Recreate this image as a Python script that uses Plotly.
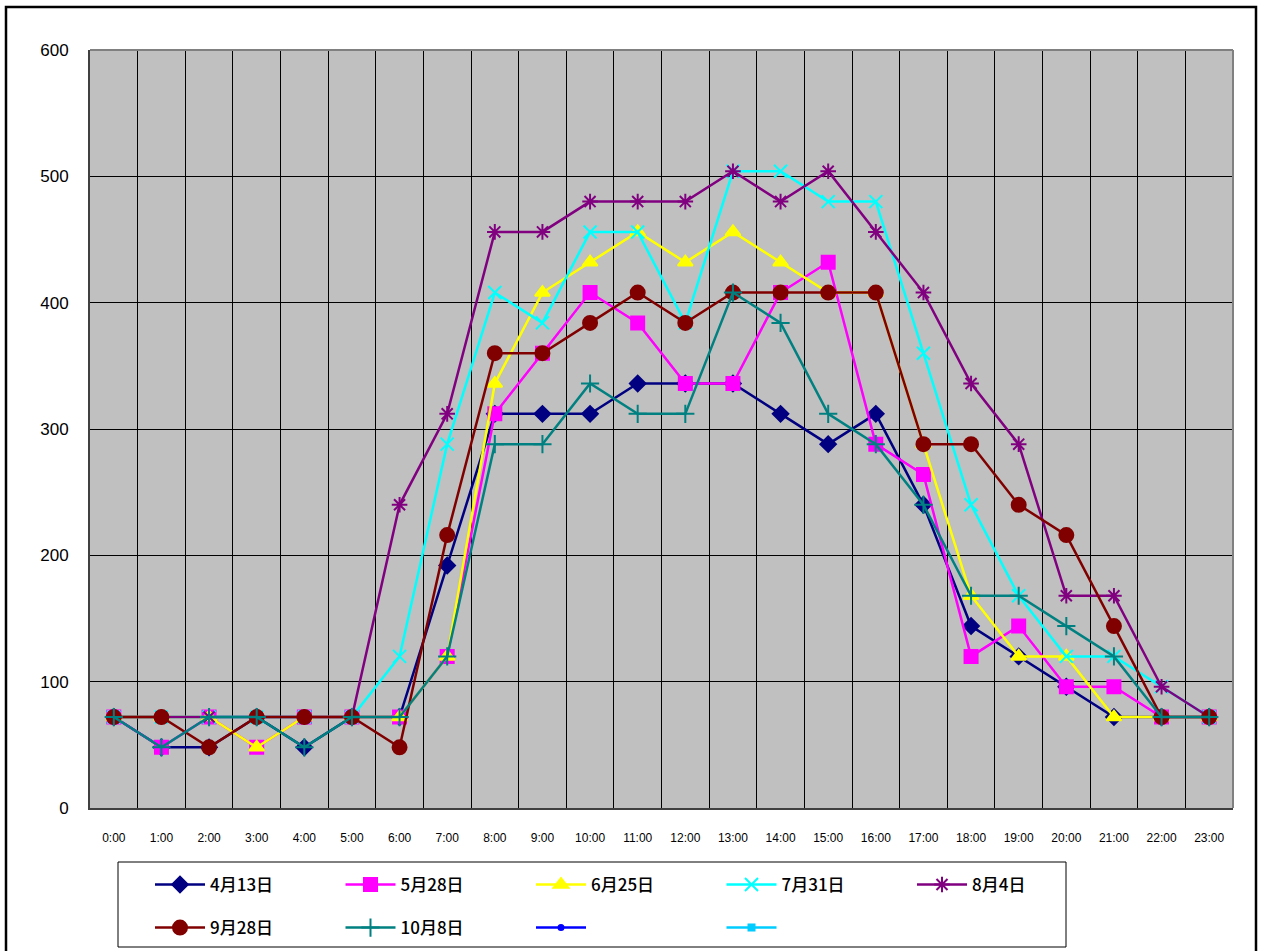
import plotly.graph_objects as go

hours = [f"{h}:00" for h in range(24)]

s_0413 = [72, 48, 48, 72, 48, 72, 72, 192, 312, 312, 312, 336, 336, 336, 312, 288, 312, 240, 144, 120, 96, 72, 72, 72]
s_0528 = [72, 48, 72, 48, 72, 72, 72, 120, 312, 360, 408, 384, 336, 336, 408, 432, 288, 264, 120, 144, 96, 96, 72, 72]
s_0625 = [72, 72, 72, 48, 72, 72, 72, 120, 336, 408, 432, 456, 432, 456, 432, 408, 408, 288, 168, 120, 120, 72, 72, 72]
s_0731 = [72, 72, 72, 72, 72, 72, 120, 288, 408, 384, 456, 456, 384, 504, 504, 480, 480, 360, 240, 168, 120, 120, 96, 72]
s_0804 = [72, 72, 72, 72, 72, 72, 240, 312, 456, 456, 480, 480, 480, 504, 480, 504, 456, 408, 336, 288, 168, 168, 96, 72]
s_0928 = [72, 72, 48, 72, 72, 72, 48, 216, 360, 360, 384, 408, 384, 408, 408, 408, 408, 288, 288, 240, 216, 144, 72, 72]
s_1008 = [72, 48, 72, 72, 48, 72, 72, 120, 288, 288, 336, 312, 312, 408, 384, 312, 288, 240, 168, 168, 144, 120, 72, 72]
s_empty = [None] * 24

names = ["4月13日", "5月28日", "6月25日", "7月31日", "8月4日", "9月28日", "10月8日", " ", " "]
series = [s_0413, s_0528, s_0625, s_0731, s_0804, s_0928, s_1008, s_empty, s_empty]
colors = ["#000080", "#FF00FF", "#FFFF00", "#00FFFF", "#800080", "#800000", "#008080", "#0000FF", "#00CCFF"]
symbols = ["diamond", "square", "triangle-up", "x-thin-open", "asterisk-open", "circle", "cross-thin-open", "circle", "square"]
sizes = [12, 13, 13, 13, 13, 14, 13, 5, 6]
legends = ["legend", "legend", "legend", "legend", "legend", "legend2", "legend2", "legend2", "legend2"]

fig = go.Figure()
for nm, ys, c, sym, sz, lg in zip(names, series, colors, symbols, sizes, legends):
    fig.add_trace(go.Scatter(
        x=hours, y=ys, name=nm, mode="lines+markers",
        line=dict(color=c, width=2.5),
        marker=dict(symbol=sym, size=sz, color=c, line=dict(color=c, width=2)),
        legend=lg,
    ))

L, R, T, B = 90, 1233, 50, 808
W, H = 1261, 951
pw, ph = R - L, B - T

def px(x):
    return (x - L) / pw

def py(y):
    return (B - y) / ph

legend_common = dict(
    orientation="h", xanchor="left", yanchor="middle",
    bgcolor="rgba(0,0,0,0)", borderwidth=0,
    font=dict(family="Noto Sans CJK JP", size=17, color="black", weight=500),
    itemwidth=50, entrywidth=125.5, traceorder="normal",
)

fig.update_layout(
    width=W, height=H,
    margin=dict(l=L, r=W - R, t=T, b=H - B, autoexpand=False),
    paper_bgcolor="white",
    plot_bgcolor="#C0C0C0",
    showlegend=True,
    legend=dict(x=px(150), y=py(885), **legend_common),
    legend2=dict(x=px(150), y=py(928), **legend_common),
    xaxis=dict(
        type="category", tickson="boundaries", range=[-0.5, 23.5],
        showgrid=True, gridcolor="black", gridwidth=1,
        showline=True, linecolor="#404040", linewidth=2,
        ticks="", ticklabelstandoff=18, automargin=False,
        tickfont=dict(family="Liberation Sans", size=12, color="black"),
        zeroline=False,
    ),
    yaxis=dict(
        range=[0, 600], dtick=100, tick0=0,
        showgrid=True, gridcolor="black", gridwidth=1,
        showline=True, linecolor="#404040", linewidth=2,
        ticks="", ticklabelstandoff=16, automargin=False,
        tickfont=dict(family="Liberation Sans", size=17, color="black"),
        zeroline=False,
    ),
    shapes=[
        dict(type="line", xref="x domain", yref="y domain", x0=0, x1=1, y0=1, y1=1,
             line=dict(color="#808080", width=2), layer="above"),
        dict(type="line", xref="x domain", yref="y domain", x0=1, x1=1, y0=0, y1=1,
             line=dict(color="#808080", width=2), layer="above"),
        dict(type="rect", xref="paper", yref="paper",
             x0=px(118), x1=px(1066), y0=py(947), y1=py(862),
             line=dict(color="black", width=1), fillcolor="rgba(0,0,0,0)"),
        dict(type="rect", xref="paper", yref="paper",
             x0=px(6), x1=px(1256), y0=py(980), y1=py(7),
             line=dict(color="black", width=2.5), fillcolor="rgba(0,0,0,0)"),
    ],
)

fig.write_html(
    "out.html",
    config={"displayModeBar": False},
    post_script="document.body.style.margin='0';document.body.style.overflow='hidden';",
)
